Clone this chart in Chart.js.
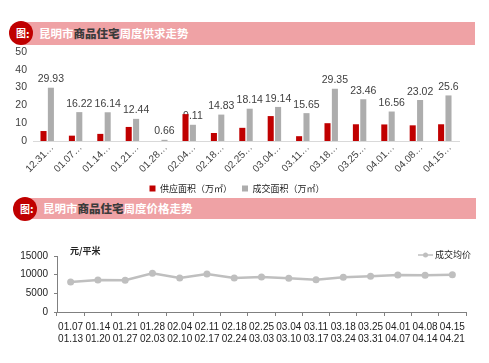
<!DOCTYPE html>
<html>
<head>
<meta charset="utf-8">
<script src="https://cdn.jsdelivr.net/npm/chart.js@4.4.0/dist/chart.umd.min.js"></script>
<style>
body{margin:0;background:#fff;width:489px;height:363px;position:relative;overflow:hidden;font-family:"Noto Sans CJK SC",sans-serif;}
.band{position:absolute;background:#EFA2A5;}
.dot{position:absolute;width:24px;height:24px;border-radius:50%;background:#C00000;color:#fff;font-weight:bold;font-size:10px;line-height:24px;text-align:center;}
.colon{position:absolute;color:#fff;font-weight:bold;font-size:11px;}
.ttl{position:absolute;color:#fff;font-weight:bold;font-size:11.5px;white-space:nowrap;}
.ttl b{color:#3b3b3b;}
canvas{position:absolute;left:0;}
</style>
</head>
<body>
<div class="band" style="left:20px;top:22px;width:455px;height:23px;"></div>
<div class="dot" style="left:9px;top:21px;">图</div>
<div class="colon" style="left:26px;top:25px;">:</div>
<div class="ttl" style="left:39px;top:25px;">昆明市<b>商品住宅</b>周度供求走势</div>

<div class="band" style="left:22px;top:198px;width:454px;height:21px;"></div>
<div class="dot" style="left:13px;top:197px;">图</div>
<div class="colon" style="left:30px;top:200px;">:</div>
<div class="ttl" style="left:43px;top:200px;">昆明市<b>商品住宅</b>周度价格走势</div>

<canvas id="barChart" width="489" height="163" style="top:40px;"></canvas>
<canvas id="lineChart" width="489" height="141" style="top:222px;"></canvas>

<script>
'use strict';

// 周度供求
var weeks = ['12.31-01.06', '01.07-01.13', '01.14-01.20', '01.21-01.27', '01.28-02.03',
             '02.04-02.10', '02.18-02.24', '02.25-03.03', '03.04-03.10', '03.11-03.17',
             '03.18-03.24', '03.25-03.31', '04.01-04.07', '04.08-04.14', '04.15-04.21'];
var supply = [5.6, 3.0, 4.0, 7.9, 0, 15.1, 4.5, 7.4, 14.0, 2.7, 10.0, 9.4, 9.3, 8.8, 9.4];
var deal = [29.93, 16.22, 16.14, 12.44, 0.66, 9.11, 14.83, 18.14, 19.14, 15.65, 29.35, 23.46, 16.56, 23.02, 25.6];
var barTicks = [0, 10, 20, 30, 40, 50];

// 周度价格
var priceStart = ['01.07', '01.14', '01.21', '01.28', '02.04', '02.11', '02.18', '02.25',
                  '03.04', '03.11', '03.18', '03.25', '04.01', '04.08', '04.15'];
var priceEnd = ['01.13', '01.20', '01.27', '02.03', '02.10', '02.17', '02.24', '03.03',
                '03.10', '03.17', '03.24', '03.31', '04.07', '04.14', '04.21'];
var price = [8040, 8570, 8490, 10370, 9110, 10180, 9110, 9380, 9030, 8650, 9300, 9560, 9910, 9830, 9990];
var priceTicks = [0, 5000, 10000, 15000];

var numFont = "'Liberation Sans Narrow', 'Liberation Sans', sans-serif";
var cjkFont = "'Noto Sans CJK SC', sans-serif";
Chart.defaults.font.family = numFont;
Chart.defaults.color = '#404040';

// value labels go under the bars, so a tall red bar can cover its neighbour's label
var labelPlugin = {
  id: 'barLabels',
  beforeDatasetsDraw: function(chart) {
    var ctx = chart.ctx;
    var meta = chart.getDatasetMeta(1);
    ctx.save();
    ctx.font = '10.5px ' + numFont;
    ctx.fillStyle = '#404040';
    ctx.textAlign = 'center';
    ctx.textBaseline = 'bottom';
    meta.data.forEach(function(bar, i) {
      ctx.fillText(String(deal[i]), bar.x, bar.y - 3);
    });
    ctx.restore();
  },
  afterDraw: function(chart) {
    var ctx = chart.ctx;
    var xs = chart.scales.x;
    var ys = chart.scales.y;
    ctx.save();
    // y labels (scale box is narrow so the legend stays centred like the original)
    ctx.font = '10.5px ' + numFont;
    ctx.fillStyle = '#404040';
    ctx.textAlign = 'right';
    ctx.textBaseline = 'middle';
    barTicks.forEach(function(v) {
      ctx.fillText(String(v), 27, ys.getPixelForValue(v));
    });
    // slanted, truncated week labels
    ctx.font = '10px ' + numFont;
    weeks.forEach(function(w, i) {
      ctx.save();
      ctx.translate(xs.getPixelForTick(i) + 5, xs.top + 5);
      ctx.rotate(-Math.PI / 4);
      ctx.fillText(w.slice(0, 5) + '…', 0, 0);
      ctx.restore();
    });
    ctx.restore();
  }
};

var barChart = new Chart(document.getElementById('barChart').getContext('2d'), {
  type: 'bar',
  data: {
    labels: weeks,
    datasets: [
      {label: '供应面积（万㎡）', data: supply, backgroundColor: '#C00000'},
      {label: '成交面积（万㎡）', data: deal, backgroundColor: '#ADADAD'}
    ]
  },
  options: {
    responsive: false,
    animation: false,
    layout: {padding: {left: 15, right: 30, top: 12, bottom: 0}},
    datasets: {bar: {categoryPercentage: 0.52, barPercentage: 0.82}},
    scales: {
      x: {
        grid: {display: false},
        border: {color: '#D9D9D9'},
        ticks: {display: false},
        afterFit: function(s) { s.height = 33; }
      },
      y: {
        min: 0, max: 50,
        afterBuildTicks: function(s) { s.ticks = barTicks.map(function(v) { return {value: v}; }); },
        grid: {display: false},
        border: {display: false},
        ticks: {display: false},
        afterFit: function(s) { s.width = 18; }
      }
    },
    plugins: {
      legend: {
        position: 'bottom',
        labels: {boxWidth: 6, boxHeight: 6, padding: 10, font: {size: 9, family: cjkFont}, color: '#222'}
      },
      tooltip: {enabled: false}
    }
  },
  plugins: [labelPlugin]
});

var lineExtras = {
  id: 'lineExtras',
  afterDraw: function(chart) {
    var ctx = chart.ctx;
    ctx.save();
    ctx.fillStyle = '#222';
    ctx.font = 'bold 9px ' + cjkFont;
    ctx.textBaseline = 'middle';
    ctx.fillText('元/平米', 70, 29);
    // legend
    ctx.strokeStyle = '#BFBFBF';
    ctx.lineWidth = 1.5;
    ctx.beginPath();
    ctx.moveTo(418, 33);
    ctx.lineTo(433, 33);
    ctx.stroke();
    ctx.fillStyle = '#BFBFBF';
    ctx.beginPath();
    ctx.arc(425.5, 33, 2.5, 0, Math.PI * 2);
    ctx.fill();
    ctx.fillStyle = '#222';
    ctx.font = '9px ' + cjkFont;
    ctx.fillText('成交均价', 435, 33);
    ctx.restore();
  }
};

var lineChart = new Chart(document.getElementById('lineChart').getContext('2d'), {
  type: 'line',
  data: {
    labels: priceStart.map(function(s, i) { return [s, priceEnd[i]]; }),
    datasets: [{
      label: '成交均价', data: price,
      borderColor: '#BFBFBF', backgroundColor: '#BFBFBF', borderWidth: 2.5,
      pointRadius: 3.5, pointBackgroundColor: '#BFBFBF', pointBorderWidth: 0,
      tension: 0
    }]
  },
  options: {
    responsive: false,
    animation: false,
    layout: {padding: {left: 0, right: 23, top: 34, bottom: 19}},
    scales: {
      x: {
        offset: true,
        grid: {display: true, offset: true, drawOnChartArea: false, tickLength: 4, color: '#808080'},
        border: {color: '#808080'},
        ticks: {font: {size: 10}, color: '#222', padding: 5, autoSkip: false, maxRotation: 0},
        afterFit: function(s) { s.height = 32; }
      },
      y: {
        min: 0, max: 15000,
        afterBuildTicks: function(s) { s.ticks = priceTicks.map(function(v) { return {value: v}; }); },
        grid: {display: true, drawOnChartArea: false, tickLength: 3, color: '#808080'},
        border: {color: '#808080'},
        ticks: {font: {size: 10}, color: '#222', padding: 6, callback: function(v) { return String(v); }},
        afterFit: function(s) { s.width = 57; }
      }
    },
    plugins: {
      legend: {display: false},
      tooltip: {enabled: false}
    }
  },
  plugins: [lineExtras]
});
</script>
</body>
</html>
